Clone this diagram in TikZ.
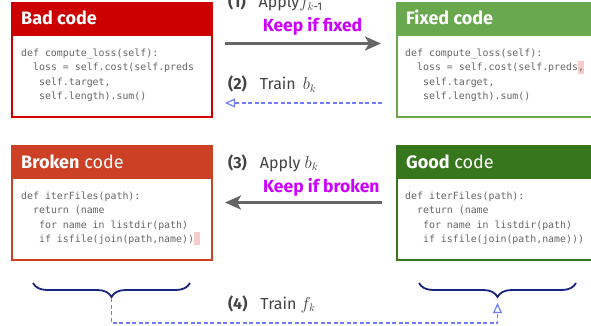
\documentclass[tikz,border=0pt]{standalone}
\usepackage{fontspec}
\usepackage{amsmath}
\setmainfont{Fira Sans}
\newfontfamily\codefont{DejaVu Sans Mono}
\usetikzlibrary{arrows.meta,decorations.pathreplacing}
\definecolor{badred}{HTML}{CC0000}
\definecolor{fixgreen}{HTML}{6AA84F}
\definecolor{brokenred}{HTML}{CC4125}
\definecolor{goodgreen}{HTML}{38761D}
\definecolor{keepmag}{HTML}{CC00FF}
\definecolor{arrowgray}{HTML}{666666}
\definecolor{labgray}{HTML}{434343}
\definecolor{codegray}{HTML}{666666}
\definecolor{dashblue}{HTML}{6F7BFF}
\definecolor{bracenavy}{HTML}{1A237E}
\definecolor{hlpink}{HTML}{F4CCCC}
\newcommand\hlbox[1]{\makebox[0pt][l]{\textcolor{hlpink}{\rule[-3pt]{5.95pt}{13pt}}}#1}
\tikzset{
  boxst/.style={draw=#1, line width=2pt, fill=white, minimum width=200pt, minimum height=114pt, inner sep=0pt, anchor=north west},
  hdst/.style={draw=#1, line width=2pt, fill=#1, minimum width=200pt, minimum height=32pt, inner sep=0pt, anchor=north west},
  hdtext/.style={text=white, inner sep=0pt, anchor=base west, font=\fontsize{18}{20}\selectfont},
  codest/.style={text=codegray, inner sep=0pt, anchor=north west, align=left, font=\codefont\fontsize{9.9}{14.2}\selectfont},
  lab/.style={text=labgray, inner sep=0pt, anchor=base west, font=\fontsize{16}{18}\selectfont},
  keep/.style={text=keepmag, inner sep=0pt, font=\bfseries\fontsize{17.5}{19}\selectfont},
  grayarrow/.style={draw=arrowgray, line width=3pt, -{Stealth[length=16pt,width=14pt,inset=4pt]}},
  bluedash/.style={draw=dashblue, line width=1.2pt, dash pattern=on 4pt off 2.5pt, -{Triangle[open,length=10pt,width=9pt]}},
  bracest/.style={draw=bracenavy, line width=1.8pt, decorate, decoration={brace, amplitude=14pt}},
}
\begin{document}
\begin{tikzpicture}[x=1pt,y=-1pt]
\useasboundingbox (0,0) rectangle (591,326);
\clip (0,0) rectangle (591,326);
% boxes
\node[boxst=badred] (bad) at (11,2) {};
\node[hdst=badred] (badh) at (bad.north west) {};
\node[hdtext] (badt) at (21,25) {\bfseries Bad code};
\node[codest] (badc) at (21,49) {def compute\_loss(self):\\
~~loss = self.cost(self.preds\\
~~~self.target,\\
~~~self.length).sum()};

\node[boxst=fixgreen] (fix) at (396,2) {};
\node[hdst=fixgreen] (fixh) at (fix.north west) {};
\node[hdtext] (fixt) at (406,25) {\bfseries Fixed code};
\node[codest] (fixc) at (405,49) {def compute\_loss(self):\\
~~loss = self.cost(self.preds\hlbox{,}\\
~~~self.target,\\
~~~self.length).sum()};

\node[boxst=brokenred] (brk) at (11,145) {};
\node[hdst=brokenred] (brkh) at (brk.north west) {};
\node[hdtext] (brkt) at (21,168) {\textbf{Broken} code};
\node[codest] (brkc) at (21,192) {def iterFiles(path):\\
~~return (name\\
~~~for name in listdir(path)\\
~~~if isfile(join(path,name))\hlbox{\phantom{)}}};

\node[boxst=goodgreen] (good) at (396,145) {};
\node[hdst=goodgreen] (goodh) at (good.north west) {};
\node[hdtext] (goodt) at (406,168) {\textbf{Good} code};
\node[codest] (goodc) at (405,192) {def iterFiles(path):\\
~~return (name\\
~~~for name in listdir(path)\\
~~~if isfile(join(path,name)))};

% labels
\node[lab] (l1) at (228,8) {\textbf{(1)}\hspace{13pt}Apply$f_{k\text{-1}}$};
\node[keep, anchor=base] (k1) at (312.5,32) {Keep if fixed};
\node[lab] (l2) at (228,90) {\textbf{(2)}\hspace{13pt}Train\, $b_k$};
\node[lab] (l3) at (228,168) {\textbf{(3)}\hspace{13pt}Apply $b_k$};
\node[keep, anchor=base west] (k3) at (263,192) {Keep if broken};
\node[lab] (l4) at (228,309) {\textbf{(4)}\hspace{13pt}Train $f_k$};

% arrows
\coordinate (a1s) at (225,43.5);
\coordinate (a1e) at (381,43.5);
\draw[grayarrow] (a1s) -- (a1e);
\coordinate (a2s) at (382,103);
\coordinate (a2e) at (225,103);
\draw[bluedash] (a2s) -- (a2e);
\coordinate (a3s) at (382,202.5);
\coordinate (a3e) at (225,202.5);
\draw[grayarrow] (a3s) -- (a3e);

% braces
\coordinate (lb1) at (33,283);
\coordinate (lb2) at (190,283);
\coordinate (rb1) at (419,283);
\coordinate (rb2) at (576,283);
\draw[bracest] (lb2) -- (lb1);
\draw[bracest] (rb2) -- (rb1);
\coordinate (lbt) at (111.5,298);
\coordinate (rbt) at (497.5,303);
\draw[bluedash] (lbt) -- (lbt |- 0,323) -| (rbt);
\end{tikzpicture}
\end{document}
